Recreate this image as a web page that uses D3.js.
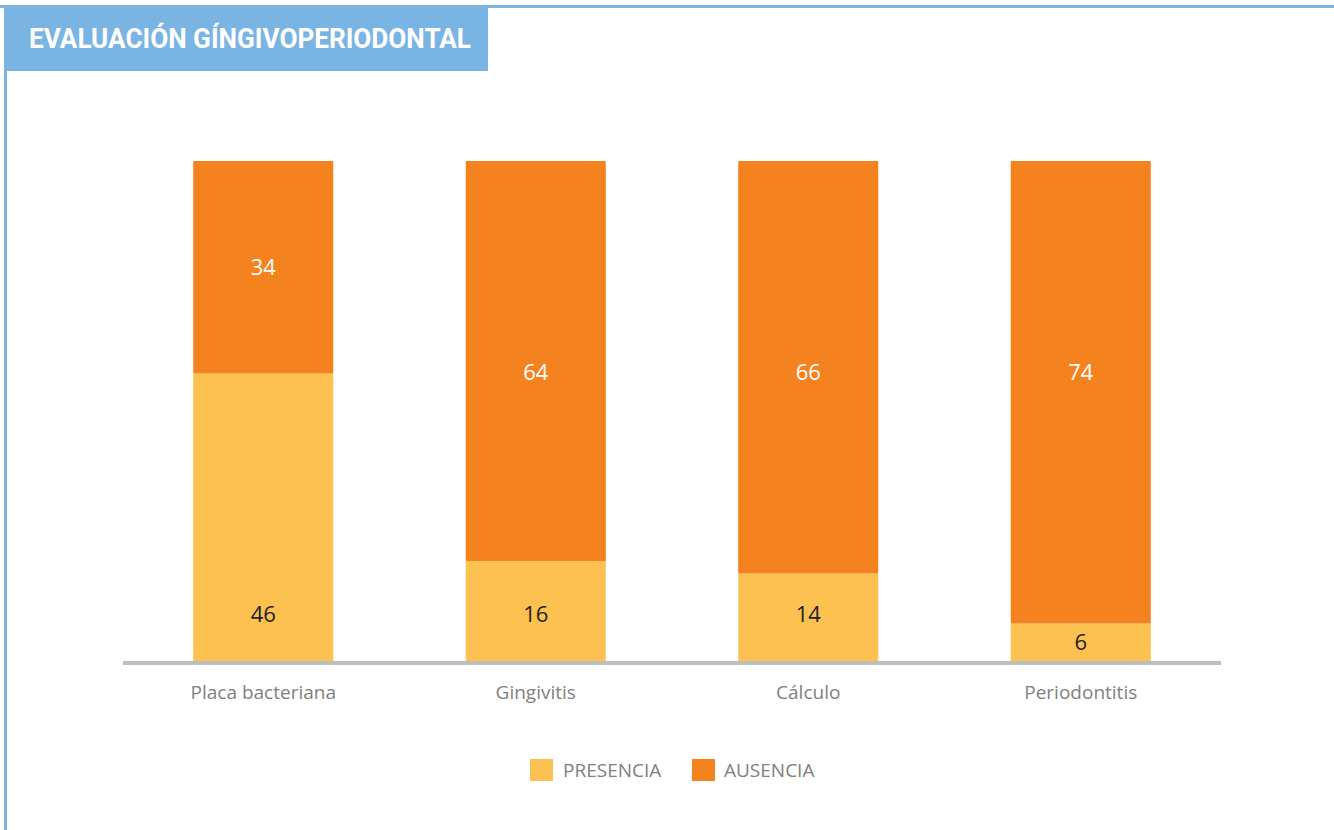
<!DOCTYPE html>
<html>
<head>
<meta charset="utf-8">
<script src="https://cdn.jsdelivr.net/npm/d3@7"></script>
<style>
  html, body { margin: 0; padding: 0; background: #fff; }
  svg { display: block; }
</style>
</head>
<body>
<svg id="chart" width="1334" height="830"></svg>
<script>
// Evaluación gingivoperiodontal: presence vs absence counts per condition
const categories = ["Placa bacteriana", "Gingivitis", "Cálculo", "Periodontitis"];
const presencia = [46, 16, 14, 6];
const ausencia = [34, 64, 66, 74];
const seriesNames = ["PRESENCIA", "AUSENCIA"];
const title = "EVALUACIÓN GÍNGIVOPERIODONTAL";

const colors = { PRESENCIA: "#fdc151", AUSENCIA: "#f4821f" };
const blue = "#7ab4e3";
const font = "'Open Sans', 'Noto Sans', sans-serif";

const svg = d3.select("#chart");

// Frame: top rule, left rule, title tab
svg.append("rect").attr("x", 0).attr("y", 5).attr("width", 1334).attr("height", 3).attr("fill", blue);
svg.append("rect").attr("x", 4).attr("y", 5).attr("width", 3).attr("height", 825).attr("fill", blue);
svg.append("rect").attr("x", 4).attr("y", 6).attr("width", 484).attr("height", 65).attr("fill", blue);
svg.append("text")
  .attr("x", 29).attr("y", 48)
  .attr("fill", "#fff")
  .attr("font-family", "Roboto, 'DejaVu Sans', sans-serif")
  .attr("font-weight", 700)
  .attr("font-size", 27)
  .attr("textLength", 442)
  .attr("lengthAdjust", "spacingAndGlyphs")
  .text(title);

// Stacked data
const rows = categories.map((c, i) => ({ cat: c, PRESENCIA: presencia[i], AUSENCIA: ausencia[i] }));
const stack = d3.stack().keys(seriesNames)(rows);

const x = d3.scaleBand().domain(categories).range([127, 1217]).paddingInner(0.486).paddingOuter(0.243);
const y = d3.scaleLinear().domain([0, 80]).range([661, 161]);

// Value labels: low in the lower segment, mid-height in the upper one
const labelValue = (key, d) => {
  const mid = (d[0] + d[1]) / 2;
  if (key === "PRESENCIA") return mid >= 7 ? 7.5 : mid;
  return d[0] >= 40 ? mid : 46.2;
};

const g = svg.append("g");
stack.forEach(layer => {
  const key = layer.key;
  g.selectAll(null).data(layer).join("rect")
    .attr("x", d => x(d.data.cat))
    .attr("y", d => y(d[1]))
    .attr("width", x.bandwidth())
    .attr("height", d => y(d[0]) - y(d[1]))
    .attr("fill", colors[key]);

  g.selectAll(null).data(layer).join("text")
    .attr("x", d => x(d.data.cat) + x.bandwidth() / 2)
    .attr("y", d => y(labelValue(key, d)) + 8)
    .attr("text-anchor", "middle")
    .attr("font-family", font)
    .attr("font-size", 22)
    .attr("fill", key === "AUSENCIA" ? "#fff" : "#231f20")
    .text(d => d.data[key]);
});

// Baseline
svg.append("line")
  .attr("x1", 123).attr("x2", 1221)
  .attr("y1", 663).attr("y2", 663)
  .attr("stroke", "#bcbec0").attr("stroke-width", 4);

// Category axis labels
const xAxis = d3.axisBottom(x).tickSize(0).tickPadding(0);
const ax = svg.append("g").attr("transform", "translate(0,684)").call(xAxis);
ax.select(".domain").remove();
ax.selectAll("text")
  .attr("dy", "0.8em")
  .attr("font-family", font)
  .attr("font-size", 19)
  .attr("fill", "#808080");

// Legend
const legendItems = [
  { key: "PRESENCIA", x: 530, tx: 563 },
  { key: "AUSENCIA", x: 692, tx: 724 }
];
const lg = svg.append("g");
legendItems.forEach(it => {
  lg.append("rect").attr("x", it.x).attr("y", 759).attr("width", 23).attr("height", 22).attr("fill", colors[it.key]);
  lg.append("text").attr("x", it.tx).attr("y", 777)
    .attr("font-family", font)
    .attr("font-size", 19)
    .attr("fill", "#808080")
    .text(it.key);
});
</script>
</body>
</html>
